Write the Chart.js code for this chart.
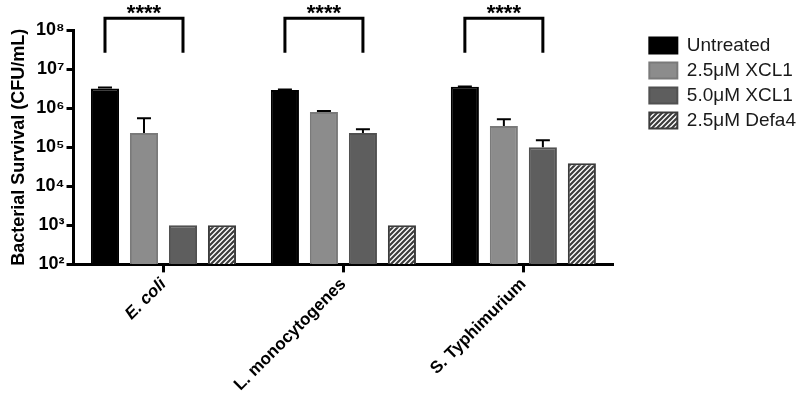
<!DOCTYPE html>
<html>
<head>
<meta charset="utf-8">
<script src="https://cdn.jsdelivr.net/npm/chart.js@4"></script>
<style>
    html, body { margin: 0; padding: 0; background: #fff; }
    #wrap { width: 800px; height: 400px; }
</style>
</head>
<body>
<div id="wrap"><canvas id="survival-chart"></canvas></div>
<script>
'use strict';

const categories = ['E. coli', 'L. monocytogenes', 'S. Typhimurium'];
const series_names = ['Untreated', '2.5\u03bcM XCL1', '5.0\u03bcM XCL1', '2.5\u03bcM Defa4'];

// mean CFU/mL
const untreated = [3.2e6, 2.9e6, 3.5e6];
const xcl1_low = [2.3e5, 7.9e5, 3.5e5];
const xcl1_high = [1.0e3, 2.3e5, 1.0e5];
const defa4 = [1.0e3, 1.0e3, 3.9e4];

// top of error bar (mean + SD), null where no bar is drawn
const untreated_err = [3.35e6, 3.0e6, 3.6e6];
const xcl1_low_err = [5.5e5, 8.5e5, 5.2e5];
const xcl1_high_err = [null, 2.9e5, 1.5e5];
const defa4_err = [null, null, null];

// significance brackets: [category, first series, second series, label]
const brackets = [
    [0, 0, 2, '****'],
    [1, 0, 2, '****'],
    [2, 0, 2, '****']
];

const y_ticks = [1e2, 1e3, 1e4, 1e5, 1e6, 1e7, 1e8];
const superscripts = {2: '\u00b2', 3: '\u00b3', 4: '\u2074', 5: '\u2075', 6: '\u2076', 7: '\u2077', 8: '\u2078'};

const FONT = '"Liberation Sans", Arial, sans-serif';
const LEGEND_WIDTH_EXTRA = 22;
const LEGEND_SHIFT = 30;

function make_hatch() {
    const c = document.createElement('canvas');
    c.width = 5;
    c.height = 5;
    const ctx = c.getContext('2d');
    ctx.fillStyle = '#ffffff';
    ctx.fillRect(0, 0, 5, 5);
    ctx.strokeStyle = '#3c3c3c';
    ctx.lineWidth = 2.2;
    ctx.beginPath();
    ctx.moveTo(-1, 6); ctx.lineTo(6, -1);
    ctx.moveTo(-3.5, 3.5); ctx.lineTo(3.5, -3.5);
    ctx.moveTo(1.5, 8.5); ctx.lineTo(8.5, 1.5);
    ctx.stroke();
    return ctx.createPattern(c, 'repeat');
}

const error_tops = [untreated_err, xcl1_low_err, xcl1_high_err, defa4_err];

const error_bar_plugin = {
    id: 'error_bars',
    afterDatasetsDraw(chart) {
        const ctx = chart.ctx;
        const y = chart.scales.y;
        ctx.save();
        ctx.strokeStyle = '#000';
        ctx.lineWidth = 2;
        error_tops.forEach((tops, d) => {
            const meta = chart.getDatasetMeta(d);
            tops.forEach((top, i) => {
                if (top === null) return;
                const bar = meta.data[i];
                const y_top = y.getPixelForValue(top);
                ctx.beginPath();
                ctx.moveTo(bar.x, bar.y);
                ctx.lineTo(bar.x, y_top);
                ctx.moveTo(bar.x - 7, y_top);
                ctx.lineTo(bar.x + 7, y_top);
                ctx.stroke();
            });
        });
        ctx.restore();
    }
};

const bracket_plugin = {
    id: 'brackets',
    afterDraw(chart) {
        const ctx = chart.ctx;
        const y = chart.scales.y;
        const y_bar = y.getPixelForValue(2.0e8);
        const y_leg = y.getPixelForValue(2.6e7);
        ctx.save();
        ctx.strokeStyle = '#000';
        ctx.lineWidth = 3;
        ctx.fillStyle = '#000';
        ctx.font = 'bold 22px ' + FONT;
        ctx.textAlign = 'center';
        ctx.textBaseline = 'top';
        brackets.forEach(([cat, a, b, label]) => {
            const xa = chart.getDatasetMeta(a).data[cat].x;
            const xb = chart.getDatasetMeta(b).data[cat].x;
            ctx.beginPath();
            ctx.moveTo(xa, y_leg);
            ctx.lineTo(xa, y_bar);
            ctx.lineTo(xb, y_bar);
            ctx.lineTo(xb, y_leg);
            ctx.stroke();
            ctx.fillText(label, (xa + xb) / 2, y_bar - 15);
        });
        ctx.restore();
    }
};

// leave a gap between the plot and the legend on the right
const legend_gap_plugin = {
    id: 'legend_gap',
    beforeLayout(chart) {
        const legend = chart.legend;
        if (!legend || legend._gap_patched) return;
        const fit = legend.fit;
        legend.fit = function() {
            fit.call(this);
            this.width += LEGEND_WIDTH_EXTRA;
        };
        legend._gap_patched = true;
    },
    afterLayout(chart) {
        if (chart.legend) {
            chart.legend.left += LEGEND_SHIFT;
        }
    }
};

const hatch = make_hatch();

const data = {
    labels: categories,
    datasets: [
        {label: series_names[0], data: untreated, backgroundColor: '#000000', borderColor: '#000000'},
        {label: series_names[1], data: xcl1_low, backgroundColor: '#8c8c8c', borderColor: '#7a7a7a'},
        {label: series_names[2], data: xcl1_high, backgroundColor: '#5e5e5e', borderColor: '#505050'},
        {label: series_names[3], data: defa4, backgroundColor: hatch, borderColor: '#3c3c3c'}
    ].map(ds => Object.assign(ds, {
        borderWidth: 2,
        categoryPercentage: 0.867,
        barPercentage: 0.72,
        base: 1e2
    }))
};

const config = {
    type: 'bar',
    data: data,
    plugins: [error_bar_plugin, bracket_plugin, legend_gap_plugin],
    options: {
        responsive: false,
        animation: false,
        layout: {
            padding: {top: 30, right: 2, left: 8, bottom: 3}
        },
        plugins: {
            legend: {
                position: 'right',
                align: 'start',
                labels: {
                    boxWidth: 28,
                    boxHeight: 16,
                    padding: 6,
                    color: '#1a1a1a',
                    font: {family: FONT, size: 19}
                }
            },
            tooltip: {enabled: false}
        },
        scales: {
            x: {
                grid: {
                    offset: false,
                    drawOnChartArea: false,
                    drawTicks: true,
                    tickLength: 8,
                    tickWidth: 3,
                    tickColor: '#000'
                },
                border: {color: '#000', width: 3},
                ticks: {
                    maxRotation: 45,
                    minRotation: 45,
                    padding: 2,
                    color: '#000',
                    font: c => ({
                        family: FONT,
                        size: 17,
                        weight: 'bold',
                        style: c.index === 0 ? 'italic' : 'normal'
                    })
                }
            },
            y: {
                type: 'logarithmic',
                min: 1e2,
                max: 1e8,
                afterBuildTicks: axis => {
                    axis.ticks = y_ticks.map(v => ({value: v}));
                },
                grid: {
                    drawOnChartArea: false,
                    tickLength: 7,
                    tickWidth: 3,
                    tickColor: '#000'
                },
                border: {color: '#000', width: 3},
                ticks: {
                    color: '#000',
                    padding: 2,
                    font: {family: FONT, size: 18, weight: 'bold'},
                    callback: v => '10' + superscripts[Math.round(Math.log10(v))]
                },
                title: {
                    display: true,
                    text: 'Bacterial Survival (CFU/mL)',
                    color: '#000',
                    padding: {top: 0, bottom: 4},
                    font: {family: FONT, size: 18, weight: 'bold'}
                }
            }
        }
    }
};

const canvas = document.getElementById('survival-chart');
canvas.width = 800;
canvas.height = 400;
new Chart(canvas, config);
</script>
</body>
</html>
